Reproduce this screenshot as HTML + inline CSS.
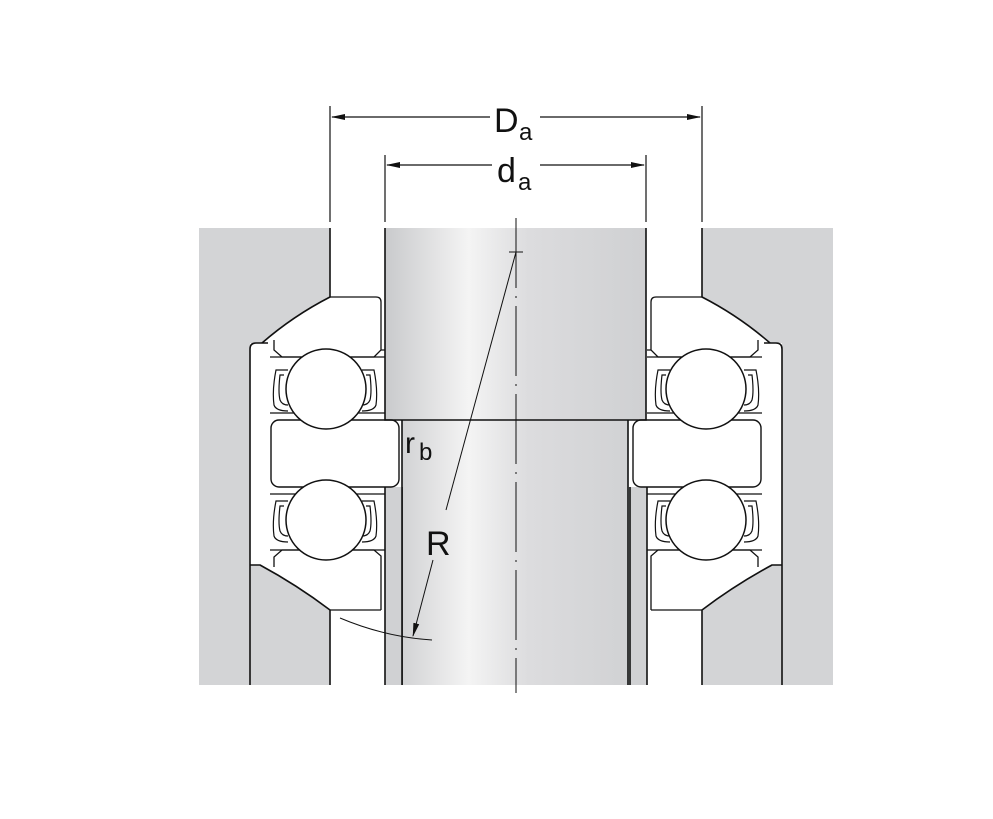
<!DOCTYPE html>
<html><head><meta charset="utf-8"><style>
html,body{margin:0;padding:0;background:#fff;width:993px;height:819px;overflow:hidden}
svg{display:block}
text{font-family:"Liberation Sans",sans-serif;fill:#111}
</style></head><body>
<svg width="993" height="819" viewBox="0 0 993 819" xmlns="http://www.w3.org/2000/svg">
<defs>
<linearGradient id="sh" x1="385" x2="646" y1="0" y2="0" gradientUnits="userSpaceOnUse">
<stop offset="0" stop-color="#c9cacc"/>
<stop offset="0.32" stop-color="#f4f4f4"/>
<stop offset="0.55" stop-color="#dcdcde"/>
<stop offset="1" stop-color="#cfd0d2"/>
</linearGradient>
<g id="side" stroke="#111" stroke-width="1.6" fill="none">
  <path d="M199,228 L330,228 L330,297 Q293,316 262,343 L250,343 L250,685 L199,685 Z" fill="#d3d4d6" stroke="none"/>
  <path d="M250,565 L260,565 Q297,585 330,610 L330,685 L250,685 Z" fill="#d3d4d6" stroke="none"/>
  <rect x="385" y="487" width="17" height="198" fill="#d0d1d3" stroke="none"/>
  <path d="M330,228 L330,297 Q293,316 262,343"/>
  <path d="M268,343 L256,343 Q250,343 250,349 L250,685"/>
  <path d="M250,565 L260,565 Q297,585 330,610 L330,685"/>
  <path d="M385,487 L385,685"/>
  <path d="M402,487 L402,685"/>
  <path d="M330,297 L376,297 Q381,297 381,302 L381,350 L374,357 L282,357 L274,350 L274,340" stroke-width="1.3"/>
  <path d="M381,350 L385,350 M270,357 L385,357 M270,413 L385,413" stroke-width="1.2"/>
  <rect x="271" y="420" width="128" height="67" rx="8" stroke-width="1.4"/>
  <path d="M274,567 L274,557 L282,550 L374,550 L381,556 L381,610" stroke-width="1.3"/>
  <path d="M270,550 L385,550 M270,494 L385,494 M381,610 L330,610" stroke-width="1.2"/>
  <g stroke-width="1.2">
    <path d="M288,370 L276,370 Q272,390 274,405 Q276,411 288,411"/>
    <path d="M284,375 L280,375 Q278,392 280,400 Q282,405 288,405"/>
    <path d="M362,370 L374,370 Q378,390 376,405 Q374,411 362,411"/>
    <path d="M366,375 L370,375 Q372,392 370,400 Q368,405 362,405"/>
    <path d="M288,501 L276,501 Q272,521 274,536 Q276,542 288,542"/>
    <path d="M284,506 L280,506 Q278,523 280,531 Q282,536 288,536"/>
    <path d="M362,501 L374,501 Q378,521 376,536 Q374,542 362,542"/>
    <path d="M366,506 L370,506 Q372,523 370,531 Q368,536 362,536"/>
  </g>
  <circle cx="326" cy="389" r="40" fill="#fff" stroke-width="1.5"/>
  <circle cx="326" cy="520" r="40" fill="#fff" stroke-width="1.5"/>
</g>
<marker id="ar" markerWidth="14" markerHeight="8" refX="13" refY="4" orient="auto" markerUnits="userSpaceOnUse">
<path d="M0,1 L14,4 L0,7 Z" fill="#111"/>
</marker>
</defs>

<rect x="385" y="228" width="261" height="192" fill="url(#sh)"/>
<rect x="402" y="420" width="226" height="265" fill="url(#sh)"/>
<rect x="628" y="487" width="18" height="198" fill="#d0d1d3"/>
<g stroke="#111" stroke-width="1.6" fill="none">
<path d="M385,228 L385,420 L646,420 L646,228"/>
<path d="M402,420 L402,685 M628,420 L628,685"/>
</g>

<use href="#side"/>
<use href="#side" transform="matrix(-1,0,0,1,1032,0)"/>

<g stroke="#111" stroke-width="1.2" fill="none">
<path d="M330,106 L330,222 M702,106 L702,222 M385,155 L385,222 M646,155 L646,222"/>
<path d="M490,117 L332,117" marker-end="url(#ar)"/>
<path d="M540,117 L700,117" marker-end="url(#ar)"/>
<path d="M492,165 L387,165" marker-end="url(#ar)"/>
<path d="M540,165 L644,165" marker-end="url(#ar)"/>
<path d="M516,218 L516,693" stroke-dasharray="70,8,2,8" stroke-width="1"/>
<path d="M509,252 L523,252" stroke-width="1"/>
<path d="M516,252 L446,510" stroke-width="1"/>
<path d="M433,560 L413,636" stroke-width="1" marker-end="url(#ar)"/>
<path d="M340,618 Q385,637 432,640" stroke-width="1"/>
</g>
<text x="494" y="132" font-size="34">D</text><text x="519" y="140" font-size="24">a</text>
<text x="497" y="182" font-size="34">d</text><text x="518" y="190" font-size="24">a</text>
<text x="405" y="453" font-size="30">r</text><text x="419" y="460" font-size="24">b</text>
<text x="426" y="555" font-size="34">R</text>
</svg>
</body></html>
